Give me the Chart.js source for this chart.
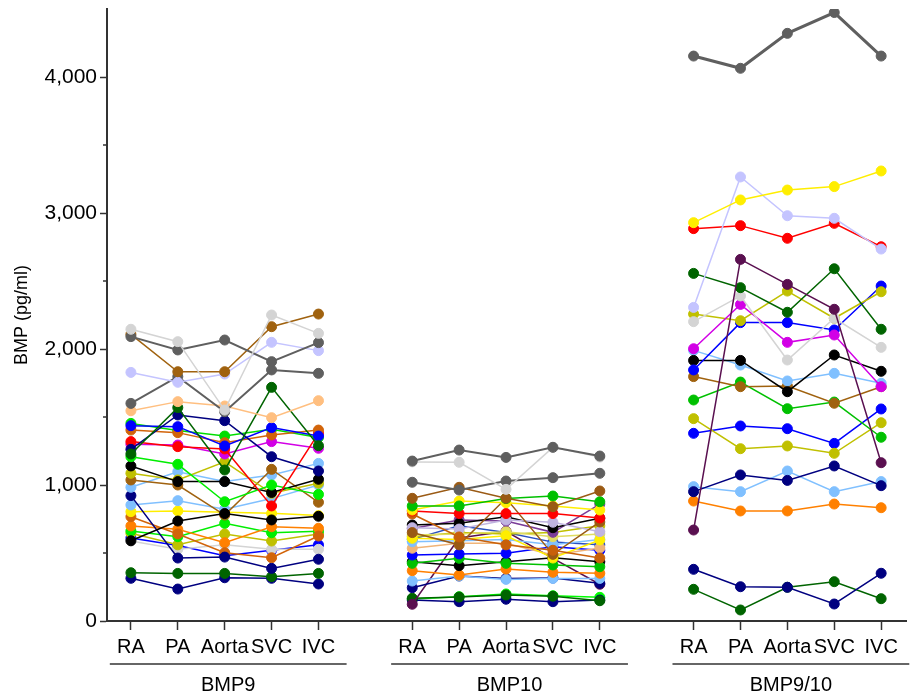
<!DOCTYPE html>
<html>
<head>
<meta charset="utf-8">
<title>BMP by site</title>
<script src="https://cdn.jsdelivr.net/npm/chart.js@4.4.0/dist/chart.umd.min.js"></script>
<style>
  html, body { margin: 0; padding: 0; background: #fff; }
</style>
</head>
<body>
<canvas id="bmpChart" width="912" height="694"></canvas>
<script>
// categories
var sites = ['RA', 'PA', 'Aorta', 'SVC', 'IVC'];
var groups = ['BMP9', 'BMP10', 'BMP9/10'];
var yTicks = [0, 1000, 2000, 3000, 4000];
var yMinorTicks = [500, 1500, 2500, 3500];

// one row per subject: RA, PA, Aorta, SVC, IVC (pg/ml)
var bmp9Values = [
  [2145, 2054, 1551, 2250, 2115],
  [2091, 1993, 2066, 1907, 2047],
  [2108, 1833, 1833, 2164, 2257],
  [1828, 1755, 1816, 2049, 1988],
  [1600, 1797, 1539, 1846, 1821],
  [1546, 1613, 1581, 1495, 1620],
  [1228, 1569, 1110, 1718, 1289],
  [1262, 1515, 1473, 1208, 1103],
  [1436, 1429, 1287, 1422, 1360],
  [1404, 1385, 1311, 1368, 1404],
  [1319, 1282, 1265, 846, 1380],
  [1299, 1294, 1228, 1319, 1270],
  [1453, 1400, 1360, 1410, 1350],
  [1208, 1152, 877, 1000, 931],
  [1140, 1025, 1025, 945, 1042],
  [590, 735, 790, 743, 770],
  [1086, 1037, 1170, 939, 1013],
  [1037, 1000, 779, 1115, 873],
  [983, 1098, 1025, 1074, 1159],
  [922, 463, 470, 387, 454],
  [853, 885, 821, 900, 1000],
  [804, 809, 800, 792, 775],
  [767, 640, 502, 465, 625],
  [699, 674, 576, 693, 682],
  [662, 620, 718, 649, 660],
  [645, 560, 640, 588, 640],
  [588, 527, 560, 527, 527],
  [610, 555, 480, 520, 560],
  [355, 350, 350, 326, 350],
  [314, 235, 318, 314, 272]
];
var bmp9Colors = [
  '#d4d4d4', '#5f5f5f', '#a0620f', '#c4c4ff', '#5f5f5f', '#ffbf80',
  '#006400', '#000080', '#0000ff', '#d2640a', '#ff0000', '#d200e6',
  '#00dd00', '#00ee00', '#000000', '#000000', '#c0c000', '#a0620f',
  '#80c0ff', '#000080', '#80c0ff', '#ffee00', '#d2640a', '#ff8000',
  '#00ee00', '#c0c000', '#d4d4d4', '#0000ff', '#006400', '#000080'
];

var bmp10Values = [
  [1176, 1257, 1203, 1277, 1213],
  [1170, 1167, 968, 1277, 1205],
  [1020, 963, 1029, 1054, 1086],
  [902, 983, 902, 840, 956],
  [846, 846, 900, 919, 877],
  [816, 882, 870, 846, 816],
  [809, 790, 790, 790, 757],
  [787, 618, 560, 520, 463],
  [650, 560, 902, 490, 728],
  [686, 676, 743, 726, 657],
  [706, 718, 767, 686, 755],
  [680, 743, 735, 652, 860],
  [608, 600, 627, 463, 596],
  [632, 640, 657, 620, 640],
  [620, 650, 640, 650, 700],
  [583, 590, 600, 560, 600],
  [535, 571, 571, 485, 537],
  [485, 493, 498, 546, 520],
  [600, 700, 650, 580, 560],
  [424, 461, 424, 412, 399],
  [436, 407, 436, 465, 436],
  [370, 338, 382, 358, 351],
  [294, 331, 306, 313, 313],
  [245, 331, 313, 316, 277],
  [123, 610, 660, 460, 270],
  [167, 176, 191, 182, 149],
  [154, 142, 160, 142, 154],
  [162, 179, 199, 186, 174]
];
var bmp10Colors = [
  '#5f5f5f', '#d4d4d4', '#5f5f5f', '#9a5a14', '#00c000', '#ffee00',
  '#ff0000', '#c8600a', '#9a5a14', '#c0b4e0', '#000000', '#7a3c98',
  '#ffee00', '#e0dc60', '#c0c000', '#80c0ff', '#f0b478', '#0000ff',
  '#2a50c0', '#00c000', '#000000', '#ff8000', '#80c0ff', '#000080',
  '#5a1050', '#006400', '#000080', '#00ff00'
];

var bmp910Values = [
  [4154, 4064, 4321, 4474, 4154],
  [2929, 3096, 3169, 3194, 3309],
  [2306, 3265, 2980, 2961, 2735],
  [2885, 2907, 2814, 2924, 2752],
  [669, 2659, 2475, 2292, 1164],
  [2556, 2451, 2270, 2590, 2145],
  [2201, 2390, 1919, 2226, 2012],
  [2002, 2328, 2049, 2103, 1723],
  [2257, 2208, 2426, 2226, 2421],
  [1846, 2194, 2194, 2140, 2463],
  [1916, 1916, 1686, 1956, 1836],
  [1990, 1882, 1765, 1821, 1748],
  [1797, 1723, 1728, 1601, 1723],
  [1625, 1757, 1561, 1610, 1351],
  [1488, 1267, 1287, 1233, 1458],
  [1380, 1434, 1414, 1306, 1559],
  [951, 1074, 1034, 1140, 995],
  [988, 951, 1103, 951, 1025],
  [882, 809, 809, 860, 833],
  [380, 252, 248, 125, 351],
  [233, 81, 248, 289, 164]
];
var bmp910Colors = [
  '#5f5f5f', '#ffee00', '#c4c4ff', '#ff0000', '#5a1050', '#006400',
  '#d4d4d4', '#d200e6', '#c0c000', '#0000ff', '#000000', '#80c0ff',
  '#a0620f', '#00c000', '#c0c000', '#0000ff', '#000080', '#80c0ff',
  '#ff8000', '#000080', '#006400'
];

var FONT = '"Liberation Sans", Arial, Helvetica, sans-serif';
var AXIS = '#333333';

var datasets = [];
function addGroup(values, colors, g){
  values.forEach(function(row, i){
    var c = colors[i];
    datasets.push({
      data: row.map(function(v, s){ return {x: g * 6 + s, y: v}; }),
      borderColor: c,
      backgroundColor: c,
      pointBackgroundColor: c,
      pointBorderColor: c,
      borderWidth: c === '#5f5f5f' ? (g === 2 ? 3 : 2) : 1.5,
      pointRadius: 5,
      pointBorderWidth: 1,
      tension: 0
    });
  });
}
addGroup(bmp9Values, bmp9Colors, 0);
addGroup(bmp10Values, bmp10Colors, 1);
addGroup(bmp910Values, bmp910Colors, 2);

var xTickValues = [];
groups.forEach(function(name, g){
  sites.forEach(function(s, i){ xTickValues.push(g * 6 + i); });
});

var extrasPlugin = {
  id: 'extras',
  afterDraw: function(chart){
    var ctx = chart.ctx, xs = chart.scales.x, ys = chart.scales.y;
    ctx.save();
    ctx.strokeStyle = AXIS;
    ctx.lineWidth = 1.5;
    yMinorTicks.forEach(function(v){
      var py = ys.getPixelForValue(v);
      ctx.beginPath();
      ctx.moveTo(ys.right - 4, py);
      ctx.lineTo(ys.right, py);
      ctx.stroke();
    });
    ctx.font = '20px ' + FONT;
    ctx.fillStyle = '#000';
    ctx.textAlign = 'center';
    ctx.textBaseline = 'middle';
    groups.forEach(function(name, g){
      var x0 = xs.getPixelForValue(g * 6 - 0.45);
      var x1 = xs.getPixelForValue(g * 6 + 4.6);
      ctx.beginPath();
      ctx.moveTo(x0, xs.top + 43);
      ctx.lineTo(x1, xs.top + 43);
      ctx.stroke();
      ctx.fillText(name, (x0 + x1) / 2, xs.top + 64);
    });
    ctx.restore();
  }
};

var ctx = document.getElementById('bmpChart').getContext('2d');
var bmpChart = new Chart(ctx, {
  type: 'line',
  data: { datasets: datasets },
  plugins: [extrasPlugin],
  options: {
    responsive: false,
    animation: false,
    layout: { padding: { top: 9, right: 0, bottom: 0, left: 0 } },
    plugins: {
      legend: { display: false },
      tooltip: { enabled: false }
    },
    scales: {
      x: {
        type: 'linear',
        min: -0.51,
        max: 16.53,
        afterBuildTicks: function(scale){
          scale.ticks = xTickValues.map(function(v){ return {value: v}; });
        },
        afterFit: function(scale){
          scale.height = 73;
          scale.paddingLeft = 0;
          scale.paddingRight = 0;
        },
        ticks: {
          autoSkip: false,
          maxRotation: 0,
          minRotation: 0,
          padding: 5,
          color: '#000',
          font: { family: FONT, size: 20 },
          callback: function(v){ return sites[v % 6]; }
        },
        grid: { drawOnChartArea: false, tickLength: 9, tickColor: AXIS, tickWidth: 1.5 },
        border: { color: AXIS, width: 2 }
      },
      y: {
        type: 'linear',
        min: 0,
        max: 4500,
        afterBuildTicks: function(scale){
          scale.ticks = yTicks.map(function(v){ return {value: v}; });
        },
        afterFit: function(scale){
          scale.width = 107;
          scale.paddingTop = 0;
          scale.paddingBottom = 0;
        },
        ticks: {
          padding: 3,
          color: '#000',
          font: { family: FONT, size: 21 },
          callback: function(v){ return v.toLocaleString('en-US'); }
        },
        grid: { drawOnChartArea: false, tickLength: 7, tickColor: AXIS, tickWidth: 1.5 },
        border: { color: AXIS, width: 2 },
        title: {
          display: true,
          text: 'BMP (pg/ml)',
          color: '#000',
          font: { family: FONT, size: 18 },
          padding: { top: 11, bottom: 0 }
        }
      }
    }
  }
});
</script>
</body>
</html>
